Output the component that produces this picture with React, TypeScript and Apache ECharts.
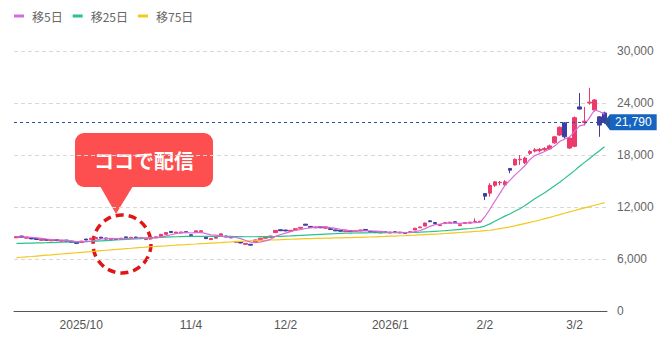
import React, { useEffect, useRef } from 'react';
import * as echarts from 'echarts';

// Trading days shown (month -> days)
const tradingDays: [string, number[]][] = [
  ['2025-09', [10, 11, 12, 16, 17, 18, 19, 22, 24, 25, 26, 29, 30]],
  ['2025-10', [1, 2, 3, 6, 7, 8, 9, 10, 14, 15, 16, 17, 20, 21, 22, 23, 24, 27, 28, 29, 30, 31]],
  ['2025-11', [4, 5, 6, 7, 10, 11, 12, 13, 14, 17, 18, 19, 20, 21, 25, 26, 27, 28]],
  ['2025-12', [1, 2, 3, 4, 5, 8, 9, 10, 11, 12, 15, 16, 17, 18, 19, 22, 23, 24, 25, 26, 29, 30]],
  ['2026-01', [5, 6, 7, 8, 9, 13, 14, 15, 16, 19, 20, 21, 22, 23, 26, 27, 28, 29, 30]],
  ['2026-02', [2, 3, 4, 5, 6, 9, 10, 12, 13, 16, 17, 18, 19, 20, 24, 25, 26, 27]],
  ['2026-03', [2, 3, 4, 5, 6, 9, 10]],
];
const dates: string[] = tradingDays.flatMap(([m, ds]) => ds.map((d) => `${m}-${String(d).padStart(2, '0')}`));

const tickDates = ['2025-10-01', '2025-11-04', '2025-12-02', '2026-01-05', '2026-02-02', '2026-03-02'];
const tickLabels = ['2025/10', '11/4', '12/2', '2026/1', '2/2', '3/2'];

const yTicks = [0, 6000, 12000, 18000, 24000, 30000];

// [open, close, low, high]
const ohlc: number[][] = [
  [8450, 8580, 8420, 8630], [8650, 8500, 8460, 8680], [8400, 8530, 8380, 8570], [8450, 8320, 8290, 8480],
  [8380, 8250, 8200, 8400], [8150, 8280, 8130, 8310], [8260, 8160, 8130, 8290], [8100, 8220, 8080, 8250],
  [8230, 8120, 8090, 8250], [8050, 8160, 8030, 8190], [8180, 8060, 8030, 8200], [8050, 7920, 7890, 8070],
  [7920, 7800, 7760, 7950], [7900, 8060, 7880, 8090], [8300, 8190, 8160, 8330], [8260, 8400, 8240, 8430],
  [8350, 8480, 8330, 8520], [8520, 8400, 8370, 8540], [8420, 8300, 8270, 8440], [8220, 8350, 8200, 8380],
  [8350, 8250, 8220, 8370], [8260, 8400, 8240, 8430], [8550, 8450, 8420, 8580], [8380, 8500, 8360, 8530],
  [8530, 8420, 8400, 8560], [8360, 8460, 8340, 8490], [8240, 8350, 8220, 8380], [8400, 8500, 8380, 8520],
  [8440, 8560, 8420, 8590], [8600, 8850, 8580, 8880], [8850, 9050, 8830, 9100], [9180, 9050, 9020, 9200],
  [9000, 9100, 8980, 9130], [8990, 9110, 8970, 9140], [9160, 9040, 9010, 9180], [8800, 8700, 8680, 8830],
  [9050, 9250, 9030, 9280], [9140, 9260, 9120, 9290], [8500, 8350, 8320, 8530], [8240, 8360, 8220, 8390],
  [8400, 8500, 8380, 8530], [8700, 8900, 8680, 8930], [8650, 8550, 8520, 8680], [8560, 8440, 8410, 8580],
  [7920, 8030, 7900, 8060], [7950, 7850, 7820, 7980], [7690, 7800, 7670, 7830], [7700, 7600, 7560, 7730],
  [8000, 8200, 7980, 8230], [8250, 8400, 8230, 8430], [8400, 8500, 8380, 8530], [8500, 8650, 8480, 8680],
  [9050, 9300, 9030, 9330], [9380, 9260, 9230, 9400], [9340, 9240, 9210, 9360], [9200, 9310, 9180, 9340],
  [9350, 9500, 9330, 9530], [9550, 9650, 9530, 9680], [10020, 9900, 9870, 10040], [9760, 9650, 9620, 9780],
  [9590, 9700, 9570, 9730], [9720, 9600, 9580, 9740], [9550, 9700, 9530, 9730], [9500, 9400, 9380, 9530],
  [9360, 9250, 9220, 9380], [9310, 9200, 9180, 9330], [9140, 9250, 9120, 9280], [9260, 9150, 9130, 9280],
  [9150, 9250, 9130, 9280], [9240, 9350, 9220, 9380], [9410, 9300, 9270, 9430], [9210, 9100, 9070, 9230],
  [9150, 9050, 9030, 9170], [9000, 9100, 8980, 9130], [9150, 9050, 9020, 9170], [9000, 9100, 8980, 9130],
  [9150, 9050, 9030, 9170], [9000, 9100, 8980, 9130], [9060, 8950, 8920, 9080], [9050, 9150, 9030, 9180],
  [9350, 9550, 9330, 9580], [9600, 9700, 9580, 9730], [9800, 10150, 9780, 10200], [10400, 10300, 10270, 10430],
  [10210, 10100, 10070, 10230], [9850, 9950, 9830, 9980], [10090, 10200, 10070, 10230], [10140, 10250, 10120, 10280],
  [10300, 10200, 10170, 10320], [9850, 9950, 9830, 9980], [10100, 10200, 10080, 10230], [10140, 10250, 10120, 10280],
  [10300, 10340, 10280, 10700], [10300, 10350, 10280, 10400], [13550, 13250, 12800, 13600], [13600, 14500, 13200, 14750],
  [14500, 14900, 14300, 15000], [14800, 14850, 14500, 15000], [14550, 14900, 14400, 15100], [16450, 16250, 15900, 16500],
  [16850, 17500, 16800, 17600], [17450, 17500, 16850, 18000], [17100, 17650, 16950, 17800], [18200, 18400, 18000, 18550],
  [18450, 18600, 18300, 18800], [18500, 18650, 18300, 18800], [18600, 18750, 18450, 18900], [18700, 19050, 18600, 19200],
  [19400, 20100, 19300, 20200], [20300, 21200, 20200, 21300], [21700, 20100, 19900, 21800], [18800, 19950, 18700, 20100],
  [19000, 22300, 18900, 22450], [23550, 23300, 23250, 25150], [21750, 21900, 21400, 23550], [24000, 24100, 23800, 25750],
  [23200, 24350, 23000, 24450], [22400, 21450, 20100, 22500], [22850, 21790, 21600, 23000],
];

// closes of the four sessions before the window (for the 5-day average)
const priorCloses = [8550, 8600, 8500, 8550];

const ma25 = [
  7800, 7810, 7830, 7840, 7860, 7870, 7880, 7900, 7910, 7930,
  7940, 7960, 7970, 7990, 8010, 8040, 8070, 8100, 8130, 8160,
  8190, 8220, 8260, 8290, 8330, 8360, 8400, 8430, 8460, 8500,
  8530, 8550, 8570, 8590, 8600, 8610, 8610, 8620, 8620, 8620,
  8610, 8610, 8600, 8600, 8590, 8580, 8570, 8570, 8570, 8580,
  8580, 8590, 8600, 8620, 8640, 8660, 8690, 8720, 8750, 8780,
  8810, 8840, 8870, 8900, 8920, 8950, 8970, 8990, 9000, 9010,
  9020, 9030, 9030, 9040, 9040, 9050, 9050, 9050, 9050, 9060,
  9070, 9090, 9120, 9150, 9190, 9230, 9270, 9320, 9370, 9420,
  9470, 9520, 9580, 9650, 9800, 10050, 10350, 10650, 10950, 11200,
  11500, 11800, 12150, 12550, 12950, 13300, 13650, 14050, 14450, 14850,
  15300, 15750, 16200, 16700, 17150, 17600, 18050, 18500, 18950,
];

const ma75 = [
  6150, 6200, 6250, 6290, 6340, 6390, 6440, 6480, 6530, 6580,
  6630, 6670, 6720, 6770, 6820, 6860, 6910, 6960, 7010, 7060,
  7100, 7150, 7200, 7240, 7290, 7330, 7380, 7420, 7450, 7490,
  7520, 7560, 7590, 7630, 7660, 7700, 7730, 7770, 7800, 7840,
  7870, 7900, 7940, 7970, 8010, 8040, 8060, 8090, 8110, 8140,
  8160, 8190, 8210, 8230, 8260, 8280, 8300, 8320, 8340, 8350,
  8370, 8380, 8400, 8410, 8430, 8440, 8460, 8470, 8490, 8500,
  8520, 8540, 8560, 8580, 8600, 8630, 8650, 8680, 8700, 8730,
  8750, 8780, 8810, 8840, 8870, 8900, 8940, 8980, 9020, 9060,
  9100, 9140, 9180, 9220, 9270, 9320, 9400, 9500, 9600, 9710,
  9830, 9960, 10090, 10220, 10360, 10500, 10650, 10800, 10960, 11120,
  11280, 11440, 11600, 11750, 11900, 12050, 12200, 12350, 12500,
];

const lastPrice = 21790;

const legendNames = ['移5日', '移25日', '移75日'];
const legendColors = ['#d86ad8', '#2bc28c', '#f2c81e'];

function movingAverage(rows: number[][], prior: number[], n: number): number[] {
  const closes = [...prior, ...rows.map((r) => r[1])];
  const out: number[] = [];
  for (let i = prior.length; i < closes.length; i++) {
    let s = 0;
    for (let k = i - n + 1; k <= i; k++) s += closes[k];
    out.push(Math.round(s / n));
  }
  return out;
}

export default function App() {
  const ref = useRef<HTMLDivElement>(null);
  useEffect(() => {
    if (!ref.current) return;
    const chart = echarts.init(ref.current, undefined, { renderer: 'svg' });
    const ma5 = movingAverage(ohlc, priorCloses, 5);
    const axisFont = 'Arial, "Liberation Sans", sans-serif';
    chart.setOption({
      animation: false,
      backgroundColor: '#fff',
      legend: {
        data: legendNames,
        left: 14,
        top: 10,
        padding: 0,
        icon: 'rect',
        itemWidth: 10,
        itemHeight: 3,
        itemGap: 10,
        textStyle: { color: '#666', fontSize: 12, fontFamily: '"Noto Sans CJK JP", sans-serif', padding: [0, 0, 0, 3] },
      },
      grid: { left: 14, right: 65, top: 51, bottom: 30 },
      xAxis: {
        type: 'category',
        data: dates,
        boundaryGap: true,
        axisTick: { show: false },
        axisLine: { lineStyle: { color: '#555', width: 1 } },
        axisLabel: {
          color: '#555',
          fontSize: 12,
          fontFamily: axisFont,
          margin: 8,
          interval: (_i: number, v: string) => tickDates.includes(v),
          formatter: (v: string) => {
            const k = tickDates.indexOf(v);
            return k >= 0 ? tickLabels[k] : '';
          },
        },
        splitLine: { show: false },
      },
      yAxis: {
        type: 'value',
        position: 'right',
        min: yTicks[0],
        max: yTicks[yTicks.length - 1],
        interval: yTicks[1] - yTicks[0],
        axisLine: { show: false },
        axisTick: { show: false },
        axisLabel: {
          color: '#666',
          fontSize: 12,
          fontFamily: axisFont,
          margin: 10,
          formatter: (v: number) => v.toLocaleString('en-US'),
        },
        splitLine: { lineStyle: { color: '#d8d8d8', type: [4, 3] } },
      },
      series: [
        {
          type: 'candlestick',
          name: 'price',
          data: ohlc,
          barWidth: '80%',
          itemStyle: {
            color: '#ec3a6c',
            color0: '#3e3ea2',
            borderColor: '#ec3a6c',
            borderColor0: '#3e3ea2',
            borderWidth: 1,
          },
          markLine: {
            silent: true,
            symbol: ['none', 'path://M0,0 L10,0 L5,10 Z'],
            symbolSize: [16, 6],
            lineStyle: { color: '#24549a', type: [3, 3], width: 1 },
            label: {
              position: 'end',
              distance: 3,
              formatter: () => lastPrice.toLocaleString('en-US'),
              color: '#fff',
              backgroundColor: '#1565c0',
              padding: [2, 5, 2, 5],
              fontSize: 12,
              fontFamily: axisFont,
            },
            data: [{ yAxis: lastPrice }],
          },
        },
        {
          type: 'line',
          name: legendNames[2],
          data: ma75,
          symbol: 'none',
          lineStyle: { color: legendColors[2], width: 1.2 },
          itemStyle: { color: legendColors[2] },
        },
        {
          type: 'line',
          name: legendNames[1],
          data: ma25,
          symbol: 'none',
          lineStyle: { color: legendColors[1], width: 1.2 },
          itemStyle: { color: legendColors[1] },
        },
        {
          type: 'line',
          name: legendNames[0],
          data: ma5,
          symbol: 'none',
          lineStyle: { color: legendColors[0], width: 1.2 },
          itemStyle: { color: legendColors[0] },
        },
      ],
      graphic: [
        {
          type: 'group',
          silent: true,
          children: [
            {
              type: 'circle',
              shape: { cx: 122, cy: 244, r: 29 },
              style: { fill: 'none', stroke: '#e01616', lineWidth: 3.5, lineDash: [8, 5] },
            },
            {
              type: 'rect',
              shape: { x: 75, y: 133, width: 138, height: 54, r: 9 },
              style: { fill: '#fd4f4f' },
            },
            {
              type: 'polygon',
              shape: { points: [[100, 186], [133, 186], [116, 214]] },
              style: { fill: '#fd4f4f' },
            },
            {
              type: 'text',
              x: 144,
              y: 160,
              style: {
                text: 'ココで配信',
                fill: '#fff',
                fontSize: 20,
                fontWeight: 'bold',
                fontFamily: '"Noto Sans CJK JP", sans-serif',
                align: 'center',
                verticalAlign: 'middle',
              },
            },
          ],
        },
      ],
    });
    return () => chart.dispose();
  }, []);
  return <div ref={ref} style={{ position: 'absolute', left: 0, top: 0, width: 672, height: 341 }} />;
}
